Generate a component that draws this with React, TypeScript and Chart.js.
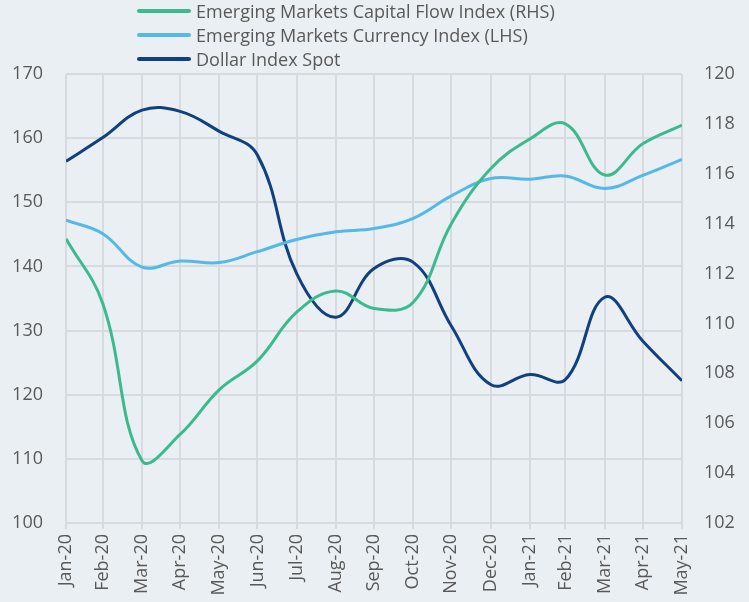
import React, { useEffect, useRef } from "react";
import { Chart, registerables } from "chart.js";

Chart.register(...registerables);

// Month-end observation dates
const monthEnds = [
  "2020-01-31", "2020-02-29", "2020-03-31", "2020-04-30", "2020-05-31", "2020-06-30",
  "2020-07-31", "2020-08-31", "2020-09-30", "2020-10-31", "2020-11-30", "2020-12-31",
  "2021-01-31", "2021-02-28", "2021-03-31", "2021-04-30", "2021-05-31",
];
const monthLabels = [
  "Jan-20", "Feb-20", "Mar-20", "Apr-20", "May-20", "Jun-20", "Jul-20", "Aug-20",
  "Sep-20", "Oct-20", "Nov-20", "Dec-20", "Jan-21", "Feb-21", "Mar-21", "Apr-21", "May-21",
];

// Emerging Markets Capital Flow Index (RHS)
const capitalFlowRHS = [
  113.4, 110.8, 104.5, 105.55, 107.35, 108.5, 110.45, 111.3, 110.6, 110.85,
  114.0, 116.2, 117.4, 118.0, 115.95, 117.2, 117.95,
];
// Emerging Markets Currency Index (LHS)
const currencyLHS = [
  147.2, 145.1, 139.9, 140.85, 140.6, 142.3, 144.2, 145.4, 145.9, 147.5,
  151.0, 153.7, 153.6, 154.1, 152.15, 154.2, 156.7,
];
// Dollar Index Spot (RHS)
const dollarSpot = [
  116.5, 117.45, 118.55, 118.5, 117.7, 116.75, 112.0, 110.25, 112.2, 112.45,
  109.9, 107.55, 107.95, 107.75, 111.05, 109.3, 107.7,
];

const leftMin = 100;
const leftMax = 170;
const leftStep = 10;
const rightMin = 102;
const rightMax = 120;
const rightStep = 2;

const seriesNames = [
  "Emerging Markets Capital Flow Index (RHS)",
  "Emerging Markets Currency Index (LHS)",
  "Dollar Index Spot",
];
const seriesColors = ["#3DBA8D", "#56B7E9", "#123F7F"];

const BG = "#E9EFF2";
const GRID = "#D8DBDD";
const TEXT = "#595959";
const FONT = "'Open Sans', 'Noto Sans', sans-serif";

const DAY = 86400000;
const t0 = Date.parse(monthEnds[0]);
const dayOf = (s: string) => Math.round((Date.parse(s) - t0) / DAY);
const dayValues = monthEnds.map(dayOf);

export default function App() {
  const ref = useRef<HTMLCanvasElement | null>(null);

  useEffect(() => {
    document.body.style.margin = "0";
    document.body.style.background = BG;
    const canvas = ref.current;
    if (!canvas) return;
    const toPts = (vals: number[]) => vals.map((v, i) => ({ x: dayValues[i], y: v }));
    const chart = new Chart(canvas, {
      type: "line",
      data: {
        datasets: [
          {
            label: seriesNames[0],
            data: toPts(capitalFlowRHS),
            borderColor: seriesColors[0],
            yAxisID: "y1",
          },
          {
            label: seriesNames[1],
            data: toPts(currencyLHS),
            borderColor: seriesColors[1],
            yAxisID: "y",
          },
          {
            label: seriesNames[2],
            data: toPts(dollarSpot),
            borderColor: seriesColors[2],
            yAxisID: "y1",
          },
        ].map((d) => ({
          ...d,
          borderWidth: 3,
          pointRadius: 0,
          tension: 0.4,
          fill: false,
          backgroundColor: d.borderColor,
        })),
      },
      options: {
        responsive: false,
        animation: false,
        devicePixelRatio: 1,
        layout: { padding: { top: 74, left: 0, right: 0, bottom: 0 } },
        plugins: {
          legend: { display: false },
          tooltip: { enabled: false },
        },
        scales: {
          x: {
            type: "linear",
            min: dayValues[0],
            max: dayValues[dayValues.length - 1],
            afterBuildTicks: (scale: any) => {
              scale.ticks = dayValues.map((v) => ({ value: v }));
            },
            afterFit: (scale: any) => {
              scale.height = 79;
            },
            ticks: {
              autoSkip: false,
              minRotation: 90,
              maxRotation: 90,
              padding: 5,
              color: TEXT,
              font: { family: FONT, size: 18 },
              callback: (v: any) => {
                const i = dayValues.indexOf(Number(v));
                return i >= 0 ? monthLabels[i] : "";
              },
            },
            grid: { color: GRID, lineWidth: 2, tickLength: 6, drawTicks: true },
            border: { display: false },
          },
          y: {
            position: "left",
            min: leftMin,
            max: leftMax,
            afterFit: (scale: any) => {
              scale.width = 66;
            },
            ticks: {
              stepSize: leftStep,
              padding: 23,
              color: TEXT,
              font: { family: FONT, size: 18 },
            },
            grid: { color: GRID, lineWidth: 2, drawTicks: false },
            border: { display: false },
          },
          y1: {
            position: "right",
            min: rightMin,
            max: rightMax,
            afterFit: (scale: any) => {
              scale.width = 67;
            },
            ticks: {
              stepSize: rightStep,
              padding: 22,
              color: TEXT,
              font: { family: FONT, size: 18 },
            },
            grid: { display: false, drawTicks: false },
            border: { display: false },
          },
        },
      },
    });
    return () => chart.destroy();
  }, []);

  return (
    <div style={{ position: "relative", width: 749, height: 602, background: BG, overflow: "hidden" }}>
      <canvas ref={ref} width={749} height={602} style={{ position: "absolute", left: 0, top: 0, width: 749, height: 602 }} />
      <div style={{ position: "absolute", left: 137, top: -1, fontFamily: FONT, fontSize: 18, color: TEXT }}>
        {seriesNames.map((name, i) => (
          <div key={name} style={{ display: "flex", alignItems: "center", height: 24 }}>
            <span style={{ display: "inline-block", width: 54, height: 4, borderRadius: 2, background: seriesColors[i], marginRight: 5 }} />
            <span style={{ whiteSpace: "nowrap", lineHeight: "24px" }}>{name}</span>
          </div>
        ))}
      </div>
    </div>
  );
}
